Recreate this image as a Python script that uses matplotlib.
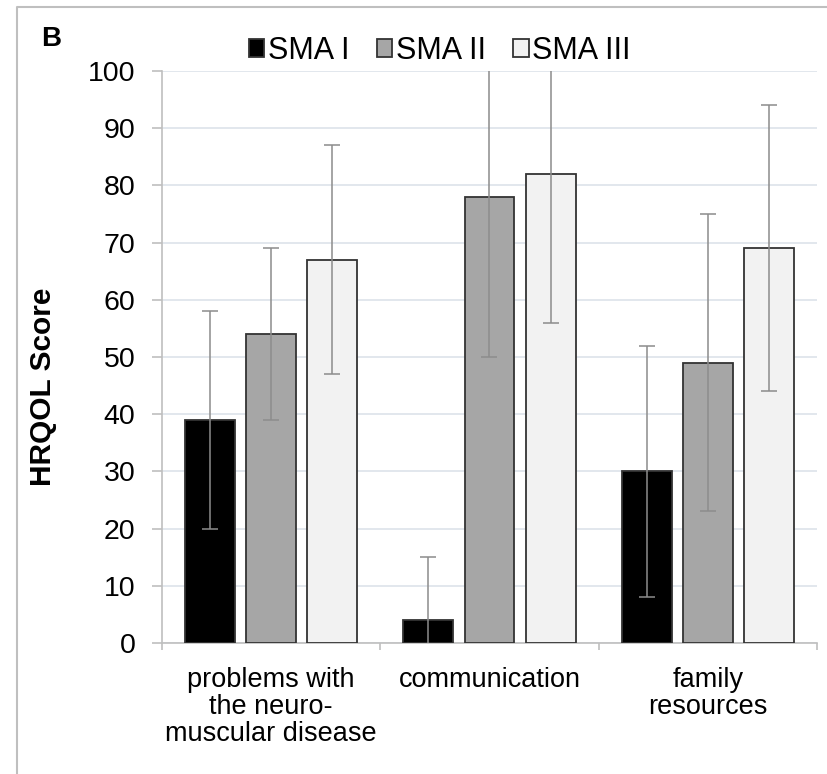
import matplotlib
matplotlib.use("Agg")
import matplotlib.pyplot as plt
from matplotlib.lines import Line2D
import numpy as np

plt.rcParams['font.family'] = ['Liberation Sans', 'DejaVu Sans']

categories = ["problems with\nthe neuro-\nmuscular disease", "communication", "family\nresources"]
series_names = ["SMA I", "SMA II", "SMA III"]
sma1 = [39, 4, 30]
sma2 = [54, 78, 49]
sma3 = [67, 82, 69]
sma1_err = [19, 11, 22]
sma2_err = [15, 28, 26]
sma3_err = [20, 26, 25]
yticks = [0, 10, 20, 30, 40, 50, 60, 70, 80, 90, 100]

values = [sma1, sma2, sma3]
errors = [sma1_err, sma2_err, sma3_err]
colors = ["#000000", "#a6a6a6", "#f2f2f2"]

W, H = 828, 774
fig = plt.figure(figsize=(W / 100, H / 100), dpi=100)
ax = fig.add_axes([162 / W, 1 - 643 / H, (817 - 162) / W, (643 - 71) / H])

x = np.arange(len(categories)) + 0.5
bw = 0.229
off = 0.28
handles = []
for i, (vals, errs, c) in enumerate(zip(values, errors, colors)):
    xs = x + (i - 1) * off
    b = ax.bar(xs, vals, width=bw, color=c, edgecolor="#333333", linewidth=1.3, zorder=3,
               label=series_names[i])
    ax.errorbar(xs, vals, yerr=errs, fmt='none', ecolor="#8c8c8c", elinewidth=1.1,
                capsize=5.5, capthick=1.1, zorder=4)
    handles.append(b)

ax.set_xlim(0, 3)
ax.set_ylim(0, 100)
ax.set_yticks(yticks)
ax.set_yticklabels([str(t) for t in yticks], fontsize=20.5)
ax.set_xticks(x)
ax.set_xticklabels(categories, fontsize=19.5, linespacing=1.07)
ax.set_xticks([0, 1, 2, 3], minor=True)
ax.tick_params(axis='x', which='major', length=0, pad=17)
ax.tick_params(axis='x', which='minor', length=5, color="#bfbfbf", width=1.2)
ax.tick_params(axis='y', length=7.2, color="#bfbfbf", width=1.2, pad=12)
ax.grid(axis='y', color="#dde3ea", linewidth=1.2, zorder=0)
ax.set_axisbelow(True)
for s in ['top', 'right']:
    ax.spines[s].set_visible(False)
for s in ['left', 'bottom']:
    ax.spines[s].set_color("#bfbfbf")
    ax.spines[s].set_linewidth(1.2)

ax.set_ylabel("HRQOL Score", fontsize=21.5, fontweight='bold')
ax.yaxis.set_label_coords(57 / W, 0.5, transform=fig.transFigure)

fig.legend(handles=handles, labels=series_names, loc='center', ncol=3,
           bbox_to_anchor=(440 / W, 1 - 51 / H), frameon=False, fontsize=22,
           handlelength=0.5, handleheight=0.5, handletextpad=0.12, columnspacing=0.9,
           borderpad=0)

fig.text(41 / W, 1 - 39 / H, "B", fontsize=20, fontweight='bold', va='center', ha='left')

# outer border
fig.add_artist(Line2D([17 / W, 17 / W, 1], [0, 1 - 7 / H, 1 - 7 / H],
                      transform=fig.transFigure, color="#bfbfbf", linewidth=1.5))

fig.savefig("out.png", dpi=100)
